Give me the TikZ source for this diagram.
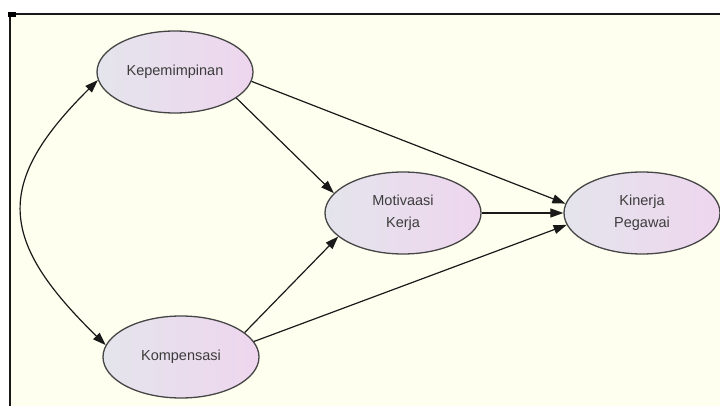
\documentclass[tikz,border=0pt]{standalone}
\usepackage{fontspec}
\setmainfont{Liberation Sans}
\usetikzlibrary{arrows.meta,shapes.geometric}
\definecolor{paper}{RGB}{255,255,240}
\definecolor{fillL}{RGB}{228,228,236}
\definecolor{fillR}{RGB}{238,214,238}
\definecolor{rim}{RGB}{70,70,70}
\definecolor{ink}{RGB}{60,60,60}
\begin{document}
\begin{tikzpicture}[x=1pt,y=-1pt,
  latent/.style={ellipse,draw=rim,line width=1.3pt,left color=fillL,right color=fillR,
    minimum width=156pt,minimum height=82pt,inner sep=0pt,align=center,
    font=\fontsize{14.5}{22}\selectfont,text=ink},
  path/.style={draw=black!90,line width=1.2pt,-{Triangle[length=13pt,width=9pt]}},
  twoway/.style={draw=black!90,line width=1.2pt,{Triangle[length=13pt,width=9pt]}-{Triangle[length=13pt,width=9pt]}}]
  \useasboundingbox (0,0) rectangle (720,406);
  \fill[white] (0,0) rectangle (720,406);
  \fill[paper] (10,14) rectangle (720,406);
  \draw[line width=2pt,black!90] (10,406) -- (10,14) -- (720,14);
  \fill[black] (8,12) rectangle (16,17);

  \node[latent] (kep) at (175,72) {Kepemimpinan};
  \node[latent] (mot) at (403,213) {Motivaasi\\Kerja};
  \node[latent] (kin) at (642,213) {Kinerja\\Pegawai};
  \node[latent] (komp) at (181,357) {Kompensasi};

  \draw[twoway] (kep.186) .. controls (-7,184) and (-1,241) .. (komp.171);
  \draw[path] (kep.-23) -- (mot.164);
  \draw[path] (komp.21) -- (mot.200);
  \draw[path] (kep.-7) -- (kin.173);
  \draw[path] (mot.east) -- (kin.west);
  \draw[path] (komp.12) -- (kin.189);
\end{tikzpicture}
\end{document}
